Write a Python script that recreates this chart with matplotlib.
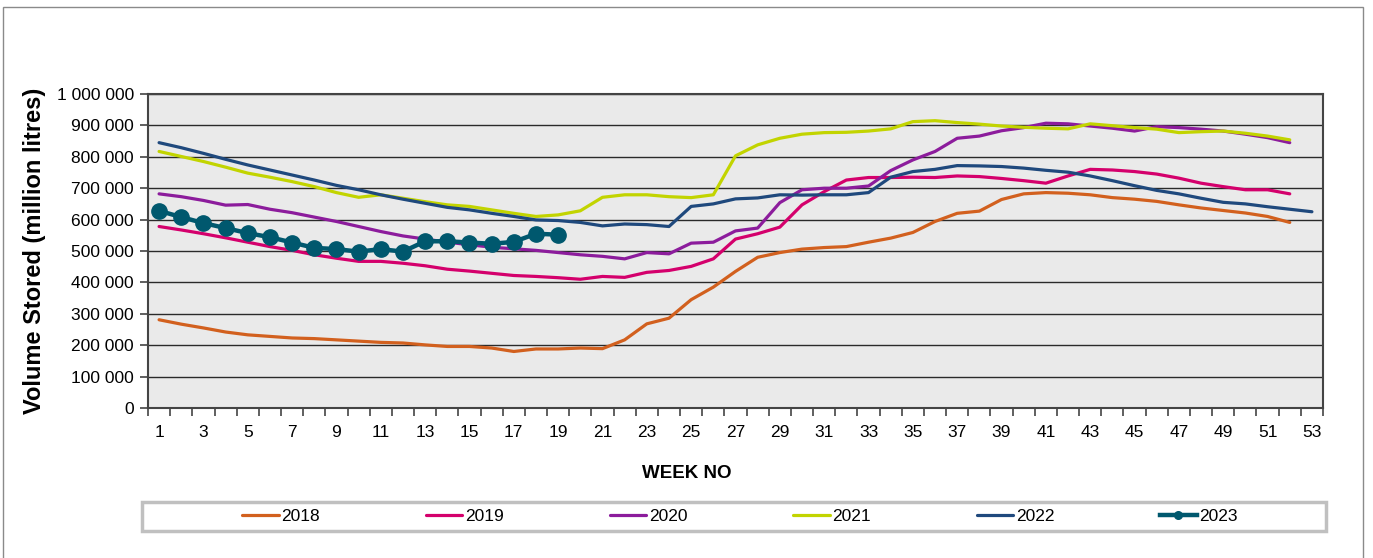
import matplotlib
matplotlib.use("Agg")
import matplotlib.pyplot as plt
from matplotlib.patches import Rectangle
from matplotlib.ticker import FuncFormatter, MultipleLocator

plt.rcParams["font.family"] = ["Liberation Sans", "DejaVu Sans"]

# weekly volume stored (million litres)
weeks = list(range(1, 54))

vol_2018 = [281, 267, 255, 242, 233, 228, 223, 221, 217, 213, 209, 207, 201, 196, 196, 191, 180, 188, 188,
            191, 189, 217, 268, 286, 345, 385, 435, 480, 495, 506, 511, 514, 528, 541, 559, 594, 620,
            627, 664, 682, 686, 684, 679, 670, 665, 658, 647, 637, 629, 621, 610, 591]
vol_2019 = [578, 567, 555, 542, 528, 514, 502, 488, 477, 467, 467, 461, 453, 442, 436, 429, 422, 419, 415,
            410, 419, 416, 432, 438, 451, 475, 538, 555, 576, 647, 689, 726, 734, 734, 735, 734, 739,
            737, 731, 724, 716, 739, 760, 758, 753, 745, 732, 716, 705, 695, 695, 682]
vol_2020 = [682, 673, 661, 646, 648, 633, 622, 608, 594, 578, 562, 548, 538, 528, 520, 512, 507, 502, 495,
            488, 483, 475, 495, 491, 525, 528, 564, 573, 654, 695, 700, 700, 707, 756, 790, 817, 859,
            866, 883, 893, 907, 905, 898, 891, 882, 896, 893, 888, 882, 872, 861, 845]
vol_2021 = [817, 801, 785, 767, 748, 735, 721, 705, 686, 671, 679, 668, 657, 647, 642, 631, 620, 610, 615,
            628, 671, 679, 679, 673, 670, 679, 803, 838, 859, 872, 877, 878, 882, 889, 912, 915, 909,
            904, 898, 894, 891, 889, 905, 899, 893, 888, 877, 880, 882, 875, 866, 854]
vol_2022 = [845, 829, 811, 792, 774, 758, 742, 726, 709, 695, 679, 665, 652, 639, 631, 620, 610, 599, 597,
            591, 580, 586, 584, 578, 642, 650, 666, 669, 679, 678, 679, 679, 686, 735, 753, 760, 772,
            771, 769, 764, 757, 751, 739, 724, 708, 693, 682, 668, 655, 650, 641, 633, 625]
vol_2023 = [628, 608, 589, 573, 557, 544, 527, 510, 506, 498, 506, 498, 531, 531, 527, 523, 529, 555, 552]

series = [
    ("2018", vol_2018, "#D2601E"),
    ("2019", vol_2019, "#D4006C"),
    ("2020", vol_2020, "#8C1C9C"),
    ("2021", vol_2021, "#C2D400"),
    ("2022", vol_2022, "#1F497D"),
]

W, H = 1373, 558
fig = plt.figure(figsize=(W / 100, H / 100), dpi=100)
ax = fig.add_axes([148 / W, 1 - 408 / H, (1323 - 148) / W, (408 - 94) / H])
ax.set_facecolor("#EAEAEA")

for label, vals, color in series:
    ax.plot(weeks[:len(vals)], [v * 1000 for v in vals], color=color, lw=2.3, label=label,
            solid_capstyle="round", zorder=3)
ax.plot(weeks[:len(vol_2023)], [v * 1000 for v in vol_2023], color="#00586E", lw=3.2,
        marker="o", markersize=11, label="2023", zorder=4)

ax.set_xlim(0.5, 53.5)
ax.set_ylim(0, 1_000_000)
ax.yaxis.set_major_locator(MultipleLocator(100_000))
ax.yaxis.set_major_formatter(FuncFormatter(lambda v, _: f"{int(v):,}".replace(",", " ")))
ax.grid(axis="y", color="#2A2A2A", lw=1.0, zorder=1)
ax.set_axisbelow(True)

ax.set_xticks(weeks[::2])
ax.set_xticks([w - 0.5 for w in weeks] + [53.5], minor=True)
ax.tick_params(axis="x", which="major", length=0, labelsize=12.5, pad=12)
ax.tick_params(axis="x", which="minor", length=6, width=1.2, color="#444444")
ax.tick_params(axis="y", length=6, width=1.2, color="#444444", labelsize=12.5, pad=4)

for sp in ax.spines.values():
    sp.set_color("#444444")
    sp.set_linewidth(1.5)

ax.set_ylabel("Volume Stored (million litres)", fontsize=17, fontweight="bold", labelpad=8)
fig.text(687 / W, 1 - 474 / H, "WEEK NO", ha="center", va="center", fontsize=13.5, fontweight="bold")

# legend box and entries
fig.patches.append(Rectangle((142 / W, 1 - 531 / H), (1326 - 142) / W, 29 / H,
                             transform=fig.transFigure, facecolor="white", edgecolor="#C0C0C0",
                             lw=2.5, zorder=0))
handles, labels = ax.get_legend_handles_labels()
leg = fig.legend(handles, labels, loc="center", bbox_to_anchor=(740 / W, 1 - 516 / H), ncol=6,
                 frameon=False, fontsize=12.5, handlelength=2.1, handletextpad=0.15,
                 columnspacing=6.1, markerscale=0.5)

# outer chart border
fig.patches.append(Rectangle((3 / W, -0.02), (1363 - 3) / W, 1 - 7 / H + 0.02,
                             transform=fig.transFigure, facecolor="none", edgecolor="#8A8A8A", lw=1))

fig.savefig("out.png", dpi=100)
